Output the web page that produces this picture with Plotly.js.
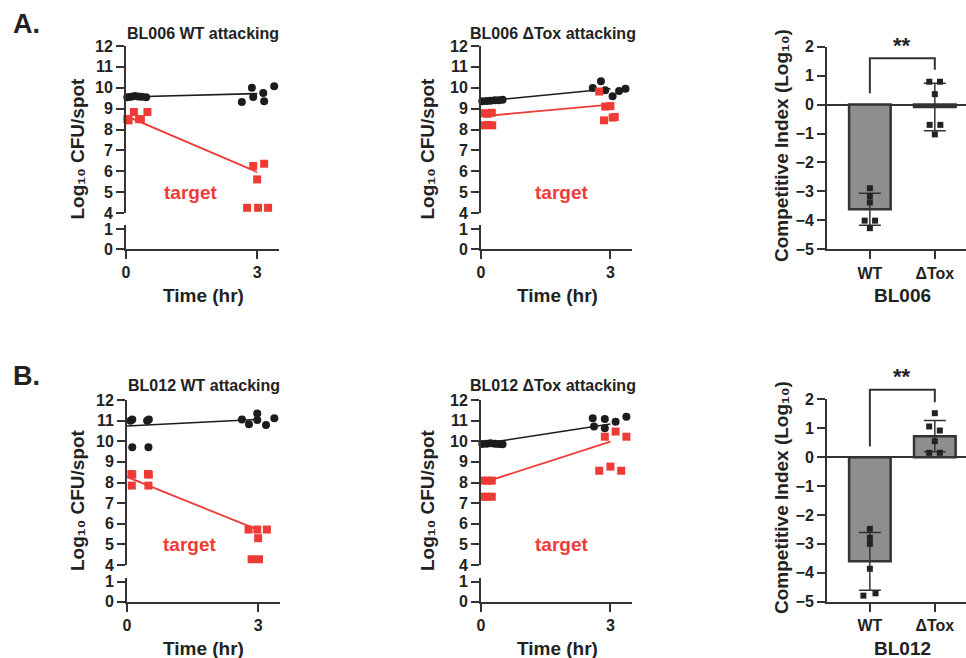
<!DOCTYPE html>
<html>
<head>
<meta charset="utf-8">
<script src="https://cdn.plot.ly/plotly-3.0.1.min.js"></script>
<style>html,body{margin:0;padding:0;background:#fff;}#chart{width:966px;height:658px;}</style>
</head>
<body>
<div id="chart"></div>
<script>
// ---------------- DATA ----------------
// Panel A, BL006 WT attacking (time in hr, log10 CFU/spot)
const a1AttackerX = [0.03, 0.12, 0.20, 0.28, 0.36, 0.46, 2.65, 2.88, 2.91, 3.14, 3.16, 3.39];
const a1AttackerY = [9.55, 9.57, 9.60, 9.58, 9.57, 9.55, 9.32, 10.00, 9.56, 9.75, 9.35, 10.07];
const a1TargetX = [0.03, 0.06, 0.18, 0.30, 0.34, 0.49, 2.91, 3.16, 3.00, 2.77, 3.02, 3.25];
const a1TargetY = [8.50, 8.44, 8.84, 8.50, 8.49, 8.84, 6.25, 6.36, 5.61, 4.25, 4.25, 4.25];
const a1AttackerLine = [9.56, 9.72];
const a1TargetLine = [8.65, 5.96];

// Panel A, BL006 ΔTox attacking
const a2AttackerX = [0.03, 0.13, 0.22, 0.32, 0.41, 0.50, 2.59, 2.78, 2.88, 3.05, 3.20, 3.35];
const a2AttackerY = [9.35, 9.37, 9.38, 9.40, 9.40, 9.42, 9.99, 10.31, 9.88, 9.59, 9.84, 9.95];
const a2TargetX = [0.05, 0.15, 0.25, 0.08, 0.17, 0.26, 2.74, 2.88, 3.00, 2.85, 3.05, 3.10];
const a2TargetY = [8.78, 8.75, 8.80, 8.20, 8.22, 8.20, 9.82, 9.10, 9.12, 8.44, 8.57, 8.60];
const a2AttackerLine = [9.35, 9.95];
const a2TargetLine = [8.63, 9.19];

// Panel B, BL012 WT attacking
const b1AttackerX = [0.08, 0.12, 0.12, 0.46, 0.50, 0.49, 2.63, 2.79, 2.98, 2.98, 3.18, 3.37];
const b1AttackerY = [11.00, 11.05, 9.71, 11.00, 11.06, 9.71, 11.06, 10.82, 11.35, 11.03, 10.79, 11.11];
const b1TargetX = [0.10, 0.12, 0.11, 0.48, 0.50, 0.49, 2.78, 2.98, 3.20, 3.00, 2.85, 3.02];
const b1TargetY = [8.41, 8.38, 7.85, 8.41, 8.38, 7.85, 5.72, 5.72, 5.72, 5.30, 4.28, 4.28];
const b1AttackerLine = [10.74, 11.06];
const b1TargetLine = [8.27, 5.70];

// Panel B, BL012 ΔTox attacking
const b2AttackerX = [0.03, 0.13, 0.22, 0.32, 0.41, 0.50, 2.59, 2.62, 2.87, 2.87, 3.12, 3.37];
const b2AttackerY = [9.87, 9.88, 9.90, 9.88, 9.87, 9.85, 11.11, 10.71, 11.08, 10.63, 10.95, 11.19];
const b2TargetX = [0.05, 0.15, 0.25, 0.05, 0.15, 0.25, 2.87, 3.12, 3.37, 2.74, 3.00, 3.25];
const b2TargetY = [8.09, 8.09, 8.09, 7.31, 7.31, 7.31, 10.22, 10.47, 10.22, 8.57, 8.77, 8.57];
const b2AttackerLine = [9.87, 10.84];
const b2TargetLine = [7.96, 9.98];

const lineTimes = [0, 3];
const timeTicks = [0, 3];
const upperTicks = [4, 5, 6, 7, 8, 9, 10, 11, 12];
const lowerTicks = [0, 1];

// Competitive index (log10)
const ciCategories = ['WT', 'ΔTox'];
const ciTicks = [-5, -4, -3, -2, -1, 0, 1, 2];
const ciA_WT = [-2.89, -3.16, -3.38, -4.01, -4.01, -4.27];
const ciA_WTjitter = [0, 0, 0, -0.08, 0.08, 0];
const ciA_Tox = [0.79, 0.79, 0.36, -0.70, -0.70, -1.03];
const ciA_Toxjitter = [-0.085, 0.08, 0, -0.08, 0.085, 0];
const ciB_WT = [-2.48, -2.79, -3.00, -3.86, -4.79, -4.71];
const ciB_WTjitter = [0, 0, 0, 0, -0.1, 0.087];
const ciB_Tox = [1.52, 1.06, 0.92, 0.55, 0.15, 0.15];
const ciB_Toxjitter = [0, -0.087, 0.077, 0, -0.087, 0.077];

// ---------------- HELPERS ----------------
const W = 966, H = 658;
const px = x => x / W;
const py = y => 1 - y / H;
const mean = a => a.reduce((s, v) => s + v, 0) / a.length;
const sd = a => { const m = mean(a); return Math.sqrt(a.reduce((s, v) => s + (v - m) * (v - m), 0) / (a.length - 1)); };

const FONT = 'Liberation Sans, Arial, Helvetica, sans-serif';
const TXT = '#222';
const AX = '#333';
const RED = '#ef3b36';
const BLK = '#1c1c1c';

const baseAxis = {
  showline: true, linewidth: 2, linecolor: AX,
  ticks: 'outside', ticklen: 8, tickwidth: 2, tickcolor: AX,
  showgrid: false, zeroline: false, fixedrange: true,
  tickfont: {family: FONT, size: 16, color: TXT, weight: 'bold'}
};
function ax(extra) { return Object.assign({}, JSON.parse(JSON.stringify(baseAxis)), extra); }

const traces = [];
const layout = {
  width: W, height: H, margin: {l: 0, r: 0, t: 0, b: 0},
  paper_bgcolor: '#fff', plot_bgcolor: 'rgba(0,0,0,0)',
  showlegend: false, font: {family: FONT, color: TXT, size: 16},
  annotations: [], shapes: []
};

function ann(text, xp, yp, size, extra) {
  layout.annotations.push(Object.assign({
    text: text, x: px(xp), y: py(yp), xref: 'paper', yref: 'paper',
    xanchor: 'center', yanchor: 'middle', showarrow: false,
    font: {family: FONT, size: size, color: TXT, weight: 'bold'}
  }, extra || {}));
}

// time-course panel with broken y axis
function timePanel(n, xDom, yUpper, yLower, d) {
  const xa = 'x' + (n.x === 1 ? '' : n.x);
  const yu = 'y' + (n.yu === 1 ? '' : n.yu);
  const yl = 'y' + n.yl;
  layout['xaxis' + (n.x === 1 ? '' : n.x)] = ax({domain: [px(xDom[0]), px(xDom[1])], range: [0, 3.5], tickvals: timeTicks, anchor: yl});
  layout['yaxis' + (n.yu === 1 ? '' : n.yu)] = ax({domain: [py(yUpper[1]), py(yUpper[0])], range: [4, 12], tickvals: upperTicks, anchor: xa});
  layout['yaxis' + n.yl] = ax({domain: [py(yLower[1]), py(yLower[0])], range: [0, 1.2], tickvals: lowerTicks, anchor: xa});
  traces.push({type: 'scatter', x: [null], y: [null], xaxis: xa, yaxis: yl, hoverinfo: 'skip', mode: 'markers'});
  traces.push({type: 'scatter', mode: 'lines', x: lineTimes, y: d.al, xaxis: xa, yaxis: yu, line: {color: BLK, width: 1.6}, cliponaxis: false, hoverinfo: 'skip'});
  traces.push({type: 'scatter', mode: 'lines', x: lineTimes, y: d.tl, xaxis: xa, yaxis: yu, line: {color: RED, width: 1.8}, cliponaxis: false, hoverinfo: 'skip'});
  traces.push({type: 'scatter', mode: 'markers', x: d.ax, y: d.ay, xaxis: xa, yaxis: yu, cliponaxis: false,
    marker: {symbol: 'circle', size: 8, color: BLK, line: {width: 0}}});
  traces.push({type: 'scatter', mode: 'markers', x: d.tx, y: d.ty, xaxis: xa, yaxis: yu, cliponaxis: false,
    marker: {symbol: 'square', size: 8, color: RED, line: {width: 0}}});
  layout.annotations.push({text: 'target', x: d.labX, y: 5.0, xref: xa, yref: yu, showarrow: false,
    xanchor: 'center', yanchor: 'middle', font: {family: FONT, size: 19, color: RED, weight: 'bold'}});
}

// competitive index panel
function ciPanel(n, xDom, yDom, wt, wtJ, tox, toxJ, bracket) {
  const xa = 'x' + n.x, ya = 'y' + n.y;
  const xr = [-0.66, 1.48], yr = [-5, 2];
  layout['xaxis' + n.x] = ax({domain: [px(xDom[0]), px(xDom[1])], range: xr, tickvals: [0, 1], ticktext: ciCategories, anchor: ya});
  layout['yaxis' + n.y] = ax({domain: [py(yDom[1]), py(yDom[0])], range: yr, tickvals: ciTicks, anchor: xa,
    zeroline: true, zerolinewidth: 2, zerolinecolor: AX});
  const means = [mean(wt), mean(tox)];
  const sds = [sd(wt), sd(tox)];
  traces.push({type: 'bar', x: [0, 1], y: means, width: 0.64, xaxis: xa, yaxis: ya,
    marker: {color: '#8e8e8e', line: {color: AX, width: 2.5}},
    error_y: {type: 'data', array: sds, visible: true, color: AX, thickness: 1.5, width: 11}});
  traces.push({type: 'scatter', mode: 'markers', xaxis: xa, yaxis: ya, cliponaxis: false,
    x: wt.map((v, i) => 0 + wtJ[i]).concat(tox.map((v, i) => 1 + toxJ[i])),
    y: wt.concat(tox), marker: {symbol: 'square', size: 6, color: '#222'}});
  // bracket in paper coords derived from the data scale
  const X = v => px(xDom[0]) + (v - xr[0]) / (xr[1] - xr[0]) * (px(xDom[1]) - px(xDom[0]));
  const Y = v => py(yDom[1]) + (v - yr[0]) / (yr[1] - yr[0]) * (py(yDom[0]) - py(yDom[1]));
  const [lb, top, rb, star] = bracket;
  layout.shapes.push({type: 'path', xref: 'paper', yref: 'paper',
    path: `M ${X(0)},${Y(lb)} L ${X(0)},${Y(top)} L ${X(1)},${Y(top)} L ${X(1)},${Y(rb)}`,
    line: {color: AX, width: 2}});
  layout.annotations.push({text: '**', x: X(0.5), y: Y(star), xref: 'paper', yref: 'paper', showarrow: false,
    xanchor: 'center', yanchor: 'middle', font: {family: FONT, size: 22, color: TXT, weight: 'bold'}});
}

// ---------------- BUILD ----------------
timePanel({x: 1, yu: 1, yl: 2}, [126, 279], [46, 213], [225, 249],
  {ax: a1AttackerX, ay: a1AttackerY, tx: a1TargetX, ty: a1TargetY, al: a1AttackerLine, tl: a1TargetLine, labX: 1.47});
timePanel({x: 2, yu: 3, yl: 4}, [481, 632], [46, 213], [225, 249],
  {ax: a2AttackerX, ay: a2AttackerY, tx: a2TargetX, ty: a2TargetY, al: a2AttackerLine, tl: a2TargetLine, labX: 1.87});
ciPanel({x: 3, y: 5}, [827, 966], [46.7, 249.3], ciA_WT, ciA_WTjitter, ciA_Tox, ciA_Toxjitter, [0.39, 1.6, 1.2, 2.05]);
timePanel({x: 4, yu: 6, yl: 7}, [127, 280], [400, 565], [577.7, 601.7],
  {ax: b1AttackerX, ay: b1AttackerY, tx: b1TargetX, ty: b1TargetY, al: b1AttackerLine, tl: b1TargetLine, labX: 1.44});
timePanel({x: 5, yu: 8, yl: 9}, [481, 632], [400, 565], [577.7, 601.7],
  {ax: b2AttackerX, ay: b2AttackerY, tx: b2TargetX, ty: b2TargetY, al: b2AttackerLine, tl: b2TargetLine, labX: 1.87});
ciPanel({x: 6, y: 10}, [827, 966], [399.3, 601.7], ciB_WT, ciB_WTjitter, ciB_Tox, ciB_Toxjitter, [0.37, 2.33, 1.9, 2.8]);

// ---------------- TEXT ----------------
ann('A.', 26, 24, 27);
ann('B.', 26, 376, 27);
ann('BL006 WT attacking', 203, 33, 16);
ann('BL006 ΔTox attacking', 553, 33, 16);
ann('BL012 WT attacking', 204, 385.5, 16);
ann('BL012 ΔTox attacking', 553, 385, 16);
const yT = 'Log₁₀ CFU/spot';
const ciT = 'Competitive Index (Log₁₀)';
ann(yT, 77, 148.5, 19, {textangle: -90});
ann(yT, 427, 148.5, 19, {textangle: -90});
ann(ciT, 781, 146, 19, {textangle: -90});
ann(yT, 77, 500, 19, {textangle: -90});
ann(yT, 427, 500, 19, {textangle: -90});
ann(ciT, 781, 498, 19, {textangle: -90});
ann('Time (hr)', 203, 295, 19);
ann('Time (hr)', 557, 295, 19);
ann('BL006', 902, 295, 19);
ann('Time (hr)', 203, 648, 19);
ann('Time (hr)', 557, 648, 19);
ann('BL012', 902, 648, 19);

Plotly.newPlot('chart', traces, layout, {staticPlot: true, displayModeBar: false});
</script>
</body>
</html>
